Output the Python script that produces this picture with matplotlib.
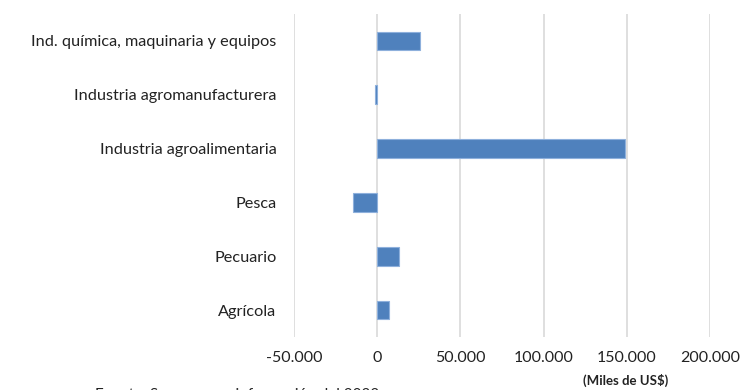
import matplotlib
matplotlib.use("Agg")
import matplotlib.pyplot as plt
from matplotlib.ticker import FuncFormatter

# Datos (miles de US$), de abajo hacia arriba
categorias = ["Agrícola", "Pecuario", "Pesca", "Industria agroalimentaria",
              "Industria agromanufacturera", "Ind. química, maquinaria y equipos"]
valores = [7200, 13400, -14200, 148700, -1000, 26000]
ticks_x = [-50000, 0, 50000, 100000, 150000, 200000]

plt.rcParams['font.family'] = ['Lato', 'DejaVu Sans']

fig = plt.figure(figsize=(7.4, 3.9), dpi=100)
ax = fig.add_axes([0.397, 0.136, 0.5625, 0.828])

ax.barh(range(len(categorias)), valores, height=0.35, color='#4f81bd',
        edgecolor='#8eb0dc', linewidth=0.8, zorder=3)

ax.set_xlim(-50000, 200000)
ax.set_ylim(-0.5, len(categorias) - 0.5)
ax.set_xticks(ticks_x)
ax.xaxis.set_major_formatter(FuncFormatter(lambda v, p: f"{int(v):,}".replace(",", ".")))
ax.set_yticks(range(len(categorias)))
ax.set_yticklabels(categorias)
ax.grid(axis='x', color='#d9d9d9', linewidth=1.2, zorder=0)
for s in ax.spines.values():
    s.set_visible(False)
ax.tick_params(axis='both', length=0, colors='#222222')
ax.tick_params(axis='x', pad=10, labelsize=11.5)
ax.tick_params(axis='y', pad=12.5, labelsize=11.7)

fig.text(0.845, 0.025, "(Miles de US$)", fontsize=9.5, fontweight='bold',
         ha='center', va='center', color='#222222')
fig.text(0.128, -0.012, "Fuente: Sagarpa con información del 2022", fontsize=11,
         ha='left', va='center', color='#222222')

fig.savefig("out.png", dpi=100)
